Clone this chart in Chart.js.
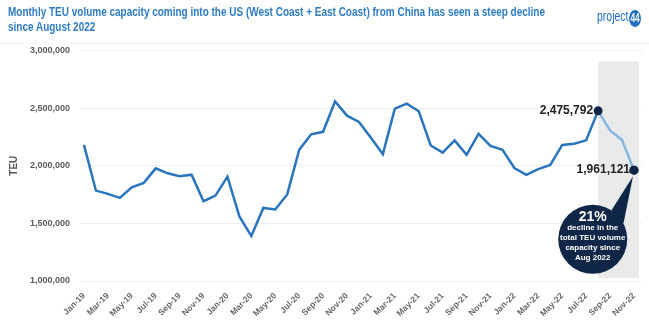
<!DOCTYPE html>
<html>
<head>
<meta charset="utf-8">
<script src="https://cdn.jsdelivr.net/npm/chart.js@4"></script>
<style>
  html,body{margin:0;padding:0;background:#fff;width:649px;height:324px;overflow:hidden;}
  #hdr{position:absolute;left:0;top:0;width:649px;height:43px;border-bottom:1px solid #f4f4f4;z-index:2;}
  #title{position:absolute;left:8px;top:5px;font-family:"Liberation Sans",Arial,sans-serif;font-weight:bold;font-size:12px;line-height:15px;color:#2e7cc0;}
  .ln{display:block;width:max-content;white-space:nowrap;transform-origin:0 0;}
  #logo{position:absolute;left:597px;top:8px;width:max-content;font-family:"Liberation Sans",Arial,sans-serif;font-size:15px;line-height:16px;color:#1e6fc0;white-space:nowrap;transform-origin:0 0;}
  #logo .c{display:inline-block;background:#1e6fc0;color:#fff;border-radius:50%;width:17px;height:17px;line-height:17px;font-size:12px;text-align:center;font-weight:bold;vertical-align:-1px;margin-left:1px;}
  #c{position:absolute;left:0;top:35px;z-index:1;}
</style>
</head>
<body>
<div id="hdr">
  <div id="title"><span class="ln" id="l1">Monthly TEU volume capacity coming into the US (West Coast + East Coast) from China has seen a steep decline</span><span class="ln" id="l2">since August 2022</span></div>
  <div id="logo">project<span class="c">44</span></div>
</div>
<canvas id="c" width="649" height="289"></canvas>
<script>
const months = [
  "Jan-19","Feb-19","Mar-19","Apr-19","May-19","Jun-19","Jul-19","Aug-19","Sep-19","Oct-19","Nov-19","Dec-19",
  "Jan-20","Feb-20","Mar-20","Apr-20","May-20","Jun-20","Jul-20","Aug-20","Sep-20","Oct-20","Nov-20","Dec-20",
  "Jan-21","Feb-21","Mar-21","Apr-21","May-21","Jun-21","Jul-21","Aug-21","Sep-21","Oct-21","Nov-21","Dec-21",
  "Jan-22","Feb-22","Mar-22","Apr-22","May-22","Jun-22","Jul-22","Aug-22","Sep-22","Oct-22","Nov-22"
];
const teu = [
  2181000,1784000,1756000,1721000,1813000,1851000,1977000,1934000,1908000,1922000,1692000,1741000,
  1905000,1560000,1390000,1634000,1620000,1751000,2137000,2272000,2294000,2557000,2434000,2380000,
  2243000,2100000,2495000,2538000,2472000,2175000,2114000,2220000,2094000,2277000,2171000,2137000,
  1980000,1920000,1971000,2006000,2180000,2191000,2220000,2475792,2306000,2223000,1961121
];
const tickLabels = ["Jan-19","Mar-19","May-19","Jul-19","Sep-19","Nov-19","Jan-20","Mar-20","May-20","Jul-20","Sep-20","Nov-20",
  "Jan-21","Mar-21","May-21","Jul-21","Sep-21","Nov-21","Jan-22","Mar-22","May-22","Jul-22","Sep-22","Nov-22"];
const yTicks = [1000000,1500000,2000000,2500000,3000000];
const peakMonth = "Aug-22";
const lastMonth = "Nov-22";
const calloutLines = ["21%","decline in the","total TEU volume","capacity since","Aug 2022"];

// fit header text widths
(function(){
  const l1 = document.getElementById('l1'), l2 = document.getElementById('l2');
  const s = 537 / l1.getBoundingClientRect().width;
  l1.style.transform = l2.style.transform = 'scaleX(' + s + ')';
  const lg = document.getElementById('logo');
  lg.style.transform = 'scaleX(' + (44 / lg.getBoundingClientRect().width) + ')';
})();

const peakIdx = months.indexOf(peakMonth);
const lastIdx = months.indexOf(lastMonth);
const fmt = v => v.toLocaleString('en-US');

const overlay = {
  id:'overlay',
  beforeDatasetsDraw(chart){
    const {ctx} = chart; const xs = chart.scales.x, ys = chart.scales.y;
    const x0 = xs.getPixelForValue(peakIdx), x1 = xs.getPixelForValue(lastIdx) + 5;
    const y0 = ys.getPixelForValue(2905000), y1 = ys.getPixelForValue(1026000);
    ctx.save(); ctx.fillStyle = '#e9eaea'; ctx.fillRect(x0, y0, x1 - x0, y1 - y0); ctx.restore();
  },
  afterDatasetsDraw(chart){
    const {ctx} = chart; const xs = chart.scales.x, ys = chart.scales.y;
    const px = xs.getPixelForValue(peakIdx), py = ys.getPixelForValue(teu[peakIdx]);
    const lx = xs.getPixelForValue(lastIdx), ly = ys.getPixelForValue(teu[lastIdx]);
    ctx.save();
    ctx.font = 'bold 12px "Liberation Sans", Arial, sans-serif';
    ctx.fillStyle = '#222'; ctx.textAlign = 'right'; ctx.textBaseline = 'middle';
    ctx.fillText(fmt(teu[peakIdx]), px - 5, py);
    ctx.fillText(fmt(teu[lastIdx]), lx - 4, ly);
    // callout
    const cx = xs.getPixelForValue(42.55), cy = ys.getPixelForValue(1362000), r = 34.5;
    ctx.fillStyle = '#0f2647';
    ctx.beginPath(); ctx.arc(cx, cy, r, 0, Math.PI*2); ctx.fill();
    const a1 = -57*Math.PI/180, a2 = -27*Math.PI/180;
    ctx.beginPath();
    ctx.moveTo(cx + r*Math.cos(a1), cy + r*Math.sin(a1));
    ctx.lineTo(lx - 1, ly + 6);
    ctx.lineTo(cx + r*Math.cos(a2), cy + r*Math.sin(a2));
    ctx.closePath(); ctx.fill();
    ctx.beginPath(); ctx.arc(lx, ly, 4.5, 0, Math.PI*2); ctx.fill();
    ctx.fillStyle = '#fff'; ctx.textAlign = 'center';
    ctx.font = 'bold 14px "Liberation Sans", Arial, sans-serif';
    ctx.fillText(calloutLines[0], cx, cy - 22);
    ctx.font = 'bold 8px "Liberation Sans", Arial, sans-serif';
    for (let i = 1; i < calloutLines.length; i++) ctx.fillText(calloutLines[i], cx, cy - 11 + (i-1)*10);
    ctx.restore();
  }
};

new Chart(document.getElementById('c'), {
  type: 'line',
  data: {
    datasets: [{
      data: teu.map((v, i) => ({x: i, y: v})),
      borderColor: '#2b75bc',
      borderWidth: 2.5,
      tension: 0,
      segment: { borderColor: c => c.p0DataIndex >= peakIdx ? '#86b5df' : '#2b75bc' },
      pointRadius: c => (c.dataIndex === peakIdx || c.dataIndex === lastIdx) ? 4.5 : 0,
      pointBackgroundColor: '#0f2647',
      pointBorderWidth: 0,
      fill: false
    }]
  },
  options: {
    responsive: false,
    animation: false,
    layout: { padding: { top: 5, right: 7, left: 0, bottom: 0 } },
    plugins: { legend: { display: false }, tooltip: { enabled: false } },
    scales: {
      x: {
        type: 'linear', min: -0.33, max: 46.67,
        afterBuildTicks: s => { s.ticks = tickLabels.map(l => ({ value: months.indexOf(l) })); },
        afterFit: s => { s.height = 43; },
        ticks: {
          autoSkip: false, maxRotation: 45, minRotation: 45, padding: 2,
          color: '#666', font: { family: '"Liberation Sans", Arial, sans-serif', weight: 'bold', size: 8.5 },
          callback: v => months[v]
        },
        grid: { display: false },
        border: { display: false }
      },
      y: {
        min: 1000000, max: 3000000,
        afterBuildTicks: s => { s.ticks = yTicks.map(v => ({ value: v })); },
        afterFit: s => { s.width = 80; },
        ticks: {
          padding: 10, color: '#5a5a5a',
          font: { family: '"Liberation Sans", Arial, sans-serif', weight: 'bold', size: 9 },
          callback: v => fmt(v)
        },
        grid: { color: '#eeeeee', drawTicks: false, lineWidth: 1 },
        border: { display: false },
        title: { display: true, text: 'TEU', color: '#555', padding: { top: 8, bottom: 0 },
          font: { family: '"Liberation Sans", Arial, sans-serif', weight: 'bold', size: 10 } }
      }
    }
  },
  plugins: [overlay]
});
</script>
</body>
</html>
